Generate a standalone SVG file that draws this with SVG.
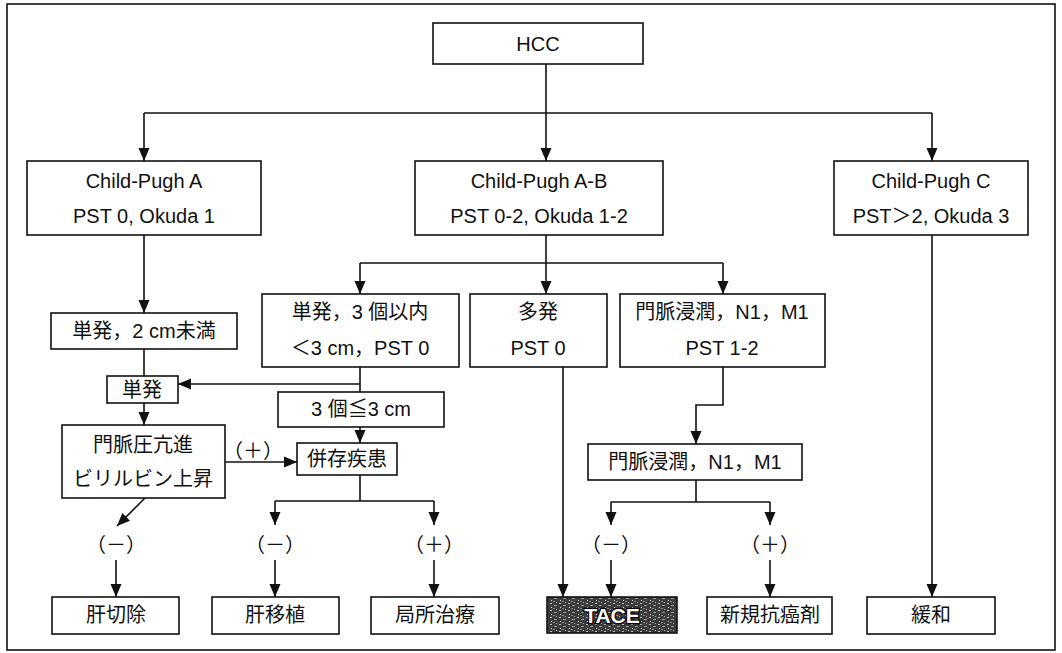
<svg xmlns="http://www.w3.org/2000/svg" width="1062" height="653" viewBox="0 0 1062 653">
<style>
.box{fill:#fff;stroke:#111;stroke-width:1.6}
.t{font-family:"Liberation Sans","Noto Sans CJK JP",sans-serif;font-size:20px;fill:#111;text-anchor:middle}
.ln{fill:none;stroke:#111;stroke-width:1.6}
.arr{marker-end:url(#ah)}
.tace{font-family:"Liberation Sans",sans-serif;font-size:21px;text-anchor:middle;fill:#fff;stroke:#000;stroke-width:2.4;paint-order:stroke;font-weight:bold}
</style>
<defs>
<marker id="ah" markerUnits="userSpaceOnUse" markerWidth="12" markerHeight="13" viewBox="0 0 12 13" refX="13" refY="6.5" orient="auto">
<path d="M0,1 L13,6.5 L0,12 z" fill="#111"/>
</marker>
<pattern id="noise" width="9" height="7" patternUnits="userSpaceOnUse">
<rect width="9" height="7" fill="#3c3c3c"/>
<rect x="1" y="1" width="2" height="1" fill="#bbb"/>
<rect x="5" y="3" width="3" height="1" fill="#999"/>
<rect x="2" y="5" width="1" height="1" fill="#ddd"/>
<rect x="7" y="0" width="1" height="1" fill="#aaa"/>
<rect x="4" y="6" width="2" height="1" fill="#888"/>
</pattern>
</defs>
<rect x="0" y="0" width="1062" height="653" fill="#fff"/>
<rect x="7" y="4" width="1048" height="646" fill="none" stroke="#111" stroke-width="1.6"/>

<g id="connectors">
<path class="ln" d="M546,64 V113 M144,113 H932"/>
<path class="ln arr" d="M144,113 V161"/>
<path class="ln arr" d="M546,113 V161"/>
<path class="ln arr" d="M932,113 V161"/>
<path class="ln arr" d="M144,235 V313"/>
<path class="ln" d="M144,349 V376"/>
<path class="ln arr" d="M144,403 V425"/>
<path class="ln" d="M546,235 V263 M360,263 H723"/>
<path class="ln arr" d="M360,263 V294"/>
<path class="ln arr" d="M546,263 V294"/>
<path class="ln arr" d="M723,263 V294"/>
<path class="ln" d="M360,367 V392"/>
<path class="ln arr" d="M360,384 H178"/>
<path class="ln arr" d="M360,427 V443"/>
<path class="ln arr" d="M225,462 H297"/>
<path class="ln" d="M360,475 V501 M275,501 H434"/>
<path class="ln arr" d="M275,501 V525"/>
<path class="ln arr" d="M434,501 V525"/>
<path class="ln arr" d="M145,498 L117,526"/>
<path class="ln arr" d="M116,560 V597"/>
<path class="ln arr" d="M275,560 V597"/>
<path class="ln arr" d="M434,560 V597"/>
<path class="ln arr" d="M563,367 V597"/>
<path class="ln arr" d="M723,367 V405 H696 V444"/>
<path class="ln" d="M696,480 V502 M611,502 H770"/>
<path class="ln arr" d="M611,502 V525"/>
<path class="ln arr" d="M770,502 V525"/>
<path class="ln arr" d="M611,560 V597"/>
<path class="ln arr" d="M770,560 V597"/>
<path class="ln arr" d="M932,235 V597"/>
<text class="t" x="253" y="458">（＋）</text>
<text class="t" x="116" y="552">（－）</text>
<text class="t" x="275" y="552">（－）</text>
<text class="t" x="434" y="552">（＋）</text>
<text class="t" x="611" y="552">（－）</text>
<text class="t" x="770" y="552">（＋）</text>
</g>

<g id="hcc"><rect class="box" x="433" y="23" width="210" height="41"/><text class="t" x="538" y="51">HCC</text></g>
<g id="cpa"><rect class="box" x="27" y="161" width="234" height="74"/><text class="t" x="144" y="188">Child-Pugh A</text><text class="t" x="144" y="223">PST 0, Okuda 1</text></g>
<g id="cpab"><rect class="box" x="415" y="161" width="248" height="74"/><text class="t" x="539" y="188">Child-Pugh A-B</text><text class="t" x="539" y="223">PST 0-2, Okuda 1-2</text></g>
<g id="cpc"><rect class="box" x="834" y="161" width="194" height="74"/><text class="t" x="931" y="188">Child-Pugh C</text><text class="t" x="931" y="223">PST＞2, Okuda 3</text></g>
<g id="tan2cm"><rect class="box" x="51" y="313" width="186" height="36"/><text class="t" x="144" y="338">単発，2 cm未満</text></g>
<g id="tanpatsu"><rect class="box" x="107" y="376" width="71" height="27"/><text class="t" x="142" y="397">単発</text></g>
<g id="monmyaku"><rect class="box" x="62" y="425" width="163" height="73"/><text class="t" x="143" y="452">門脈圧亢進</text><text class="t" x="143" y="486">ビリルビン上昇</text></g>
<g id="tan3"><rect class="box" x="262" y="294" width="197" height="73"/><text class="t" x="360" y="319">単発，3 個以内</text><text class="t" x="360" y="355">＜3 cm，PST 0</text></g>
<g id="tahatsu"><rect class="box" x="470" y="294" width="137" height="73"/><text class="t" x="538" y="319">多発</text><text class="t" x="538" y="355">PST 0</text></g>
<g id="shinjun1"><rect class="box" x="620" y="294" width="205" height="73"/><text class="t" x="722" y="319">門脈浸潤，N1，M1</text><text class="t" x="722" y="355">PST 1-2</text></g>
<g id="ko3"><rect class="box" x="278" y="392" width="166" height="35"/><text class="t" x="361" y="416">3 個≦3 cm</text></g>
<g id="heizon"><rect class="box" x="297" y="443" width="100" height="32"/><text class="t" x="347" y="466">併存疾患</text></g>
<g id="shinjun2"><rect class="box" x="588" y="444" width="214" height="36"/><text class="t" x="695" y="469">門脈浸潤，N1，M1</text></g>
<g id="kansetsujo"><rect class="box" x="52" y="597" width="127" height="37"/><text class="t" x="116" y="622">肝切除</text></g>
<g id="kanishoku"><rect class="box" x="212" y="597" width="127" height="37"/><text class="t" x="275" y="622">肝移植</text></g>
<g id="kyokusho"><rect class="box" x="371" y="597" width="128" height="37"/><text class="t" x="435" y="622">局所治療</text></g>
<g id="tace"><rect x="547" y="597" width="130" height="36" fill="url(#noise)" stroke="#111" stroke-width="1.6"/><text class="tace" x="612" y="623">TACE</text></g>
<g id="shinki"><rect class="box" x="707" y="597" width="125" height="37"/><text class="t" x="770" y="622">新規抗癌剤</text></g>
<g id="kanwa"><rect class="box" x="867" y="597" width="128" height="37"/><text class="t" x="931" y="622">緩和</text></g>
</svg>
